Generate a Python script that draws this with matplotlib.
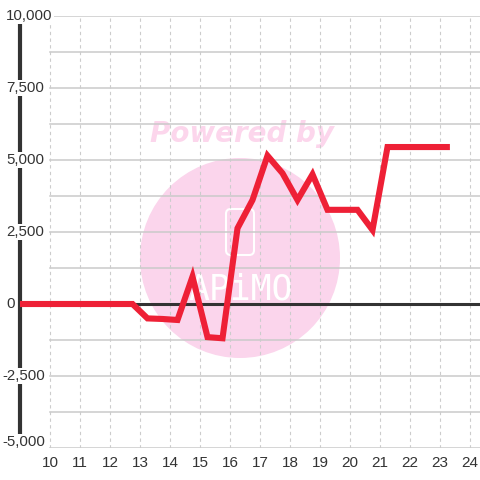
import matplotlib.pyplot as plt
from matplotlib.patches import Circle, FancyBboxPatch

# values
hours = [9, 12.75, 13.25, 13.75, 14.25, 14.75, 15.25, 15.75, 16.25, 16.75,
         17.25, 17.75, 18.25, 18.75, 19.25, 19.75, 20.25, 20.75, 21.25, 22.25, 23.33]
values = [0, 0, -500, -520, -555, 950, -1150, -1190, 2630, 3610,
          5150, 4540, 3610, 4500, 3270, 3270, 3270, 2570, 5450, 5450, 5450]
x_ticks = list(range(10, 25))
y_ticks = [-5000, -2500, 0, 2500, 5000, 7500, 10000]
y_labels = ['-5,000', '-2,500', '0', '2,500', '5,000', '7,500', '10,000']

plt.rcParams['font.family'] = ['Liberation Sans', 'DejaVu Sans']

fig = plt.figure(figsize=(4.8, 4.8), dpi=100)
fig.patch.set_facecolor('white')
ax = fig.add_axes([20/480, 32/480, 460/480, 432/480])
ax.set_xlim(9, 9 + 460/30)
ax.set_ylim(-5000, 10000)
ax.patch.set_alpha(0)

for s in ['top', 'right', 'bottom']:
    ax.spines[s].set_visible(False)
ax.spines['left'].set_color('#333333')
ax.spines['left'].set_linewidth(3)
ax.spines['left'].set_bounds(-4700, 9700)

# watermark (behind the grid)
ax.add_patch(Circle((0.5, 1 - 258/480), 100/480, transform=fig.transFigure,
                    facecolor='#fbd5ec', edgecolor='none', zorder=0.5, clip_on=False))
ax.add_patch(FancyBboxPatch((226/480, 1 - 255/480), 28/480, 46/480,
                            boxstyle='round,pad=0,rounding_size=0.01',
                            transform=fig.transFigure, facecolor='none',
                            edgecolor='white', linewidth=1.5, zorder=0.6, clip_on=False))
ax.text(241/480, 1 - 290/480, 'APiMO', color='white', fontsize=25, ha='center',
        va='center', family='DejaVu Sans Mono', transform=fig.transFigure, zorder=0.6)
ax.text(242/480, 1 - 134/480, 'Powered by', color='#fcd6ec', fontsize=20,
        fontweight='bold', fontstyle='italic', family='DejaVu Sans',
        ha='center', va='center', transform=fig.transFigure, zorder=0.6)

# grid
gx0 = 10
for v in range(-5000, 10001, 1250):
    ax.plot([gx0, ax.get_xlim()[1]], [v, v], color='#cacaca', lw=1.1, zorder=1)
for t in x_ticks:
    ax.plot([t, t], [-5000, 10000], color='#cccccc', lw=0.8, ls=(0, (3, 3)), zorder=1)
ax.axhline(0, color='#333333', lw=2.2, zorder=2)

ax.plot(hours, values, color='#ee2036', lw=4.4, solid_joinstyle='miter',
        solid_capstyle='butt', zorder=3)

ax.set_xticks(x_ticks)
ax.set_xticklabels([str(t) for t in x_ticks])
ax.tick_params(axis='x', length=0, pad=6, labelsize=11, labelcolor='#333333')
ax.set_yticks([])

for v, lab in zip(y_ticks, y_labels):
    yy = v if v > -5000 else -4800
    px = 2 if v < 0 else 6
    ax.text(9 + (px - 20) / 30, yy, lab, ha='left', va='center', fontsize=10.8,
            color='#333333', bbox=dict(facecolor='white', edgecolor='none', pad=1),
            zorder=4, clip_on=False)

fig.savefig('out.png', dpi=100)
